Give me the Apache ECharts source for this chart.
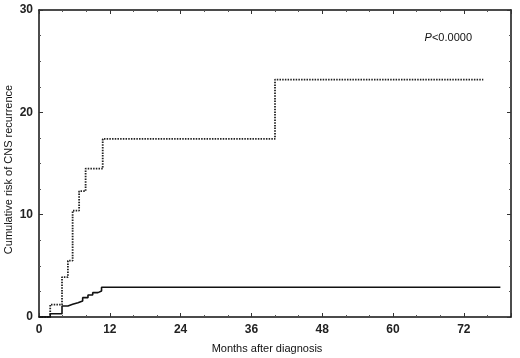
<!DOCTYPE html>
<html>
<head>
<meta charset="utf-8">
<script src="https://cdn.jsdelivr.net/npm/echarts@6/dist/echarts.min.js"></script>
<style>
  html, body { margin: 0; padding: 0; background: #fff; }
  #chart { width: 520px; height: 358px; }
</style>
</head>
<body>
<div id="chart"></div>
<script>
// x tick labels (months)
const monthTicks = [0, 12, 24, 36, 48, 60, 72];

// dotted curve (step points: month, cumulative risk %)
const dottedMonths = [0, 1.9, 3.9, 4.9, 5.7, 6.8, 7.9, 10.8, 40.0, 75.3];
const dottedRisk   = [0, 1.2, 3.9, 5.5, 10.4, 12.3, 14.5, 17.4, 23.2, 23.2];

// solid curve
const solidMonths = [0, 1.9, 3.9, 4.9, 5.7, 6.6, 7.4, 8.3, 9.1, 10.0, 10.6, 78.2];
const solidRisk   = [0, 0.32, 1.08, 1.24, 1.4, 1.57, 1.89, 2.15, 2.38, 2.54, 2.9, 2.9];

const pairs = (xs, ys) => xs.map((x, i) => [x, ys[i]]);

const chart = echarts.init(document.getElementById("chart"));

const font = "Liberation Sans, Arial, sans-serif";
const axisCommon = {
  axisLine: { show: true, onZero: false, lineStyle: { color: "#111", width: 1.5 } },
  axisTick: { show: true, inside: true, length: 4, lineStyle: { color: "#333", width: 1 } },
  minorTick: { show: true, length: 2, lineStyle: { color: "#555", width: 1 } },
  splitLine: { show: false },
};

const option = {
  animation: false,
  backgroundColor: "#fff",
  title: {
    text: "{i|P}<0.0000",
    right: 43,
    top: 27,
    textStyle: {
      fontFamily: font,
      fontSize: 11,
      fontWeight: "normal",
      color: "#111",
      rich: { i: { fontStyle: "italic", fontFamily: font, fontSize: 11, color: "#111" } },
    },
  },
  grid: { left: 39, right: 9, top: 10, bottom: 41, outerBoundsMode: "none", containLabel: false },
  xAxis: [
    {
      ...axisCommon,
      type: "value",
      min: 0,
      max: 80,
      interval: 12,
      minorTick: { ...axisCommon.minorTick, splitNumber: 3 },
      name: "Months after diagnosis",
      nameLocation: "middle",
      nameGap: 26,
      nameMoveOverlap: false,
      nameTextStyle: { fontFamily: font, fontSize: 11, color: "#111", padding: [0, 16, 0, 0] },
      axisLabel: {
        fontFamily: font, fontSize: 12, fontWeight: "bold", color: "#222", margin: 7,
        showMaxLabel: false,
        formatter: (v) => (monthTicks.includes(v) ? String(v) : ""),
      },
    },
    {
      ...axisCommon,
      type: "value",
      position: "top",
      min: 0,
      max: 80,
      interval: 12,
      minorTick: { ...axisCommon.minorTick, splitNumber: 3 },
      axisLabel: { show: false },
    },
  ],
  yAxis: [
    {
      ...axisCommon,
      type: "value",
      min: 0,
      max: 30,
      interval: 10,
      minorTick: { ...axisCommon.minorTick, splitNumber: 4 },
      name: "Cumulative risk of CNS recurrence",
      nameLocation: "middle",
      nameGap: 25,
      nameMoveOverlap: false,
      nameTextStyle: { fontFamily: font, fontSize: 11, color: "#111", padding: [0, 12, 0, 0] },
      axisLabel: { fontFamily: font, fontSize: 12, fontWeight: "bold", color: "#222", margin: 6 },
    },
    {
      ...axisCommon,
      type: "value",
      position: "right",
      min: 0,
      max: 30,
      interval: 10,
      minorTick: { ...axisCommon.minorTick, splitNumber: 4 },
      axisLabel: { show: false },
    },
  ],
  series: [
    {
      name: "dotted",
      type: "line",
      step: "end",
      data: pairs(dottedMonths, dottedRisk),
      symbol: "none",
      lineStyle: { color: "#222", width: 1.8, type: [1.5, 1.2] },
    },
    {
      name: "solid",
      type: "line",
      step: "end",
      data: pairs(solidMonths, solidRisk),
      symbol: "none",
      lineStyle: { color: "#111", width: 1.6 },
    },
  ],
};

chart.setOption(option);
</script>
</body>
</html>
